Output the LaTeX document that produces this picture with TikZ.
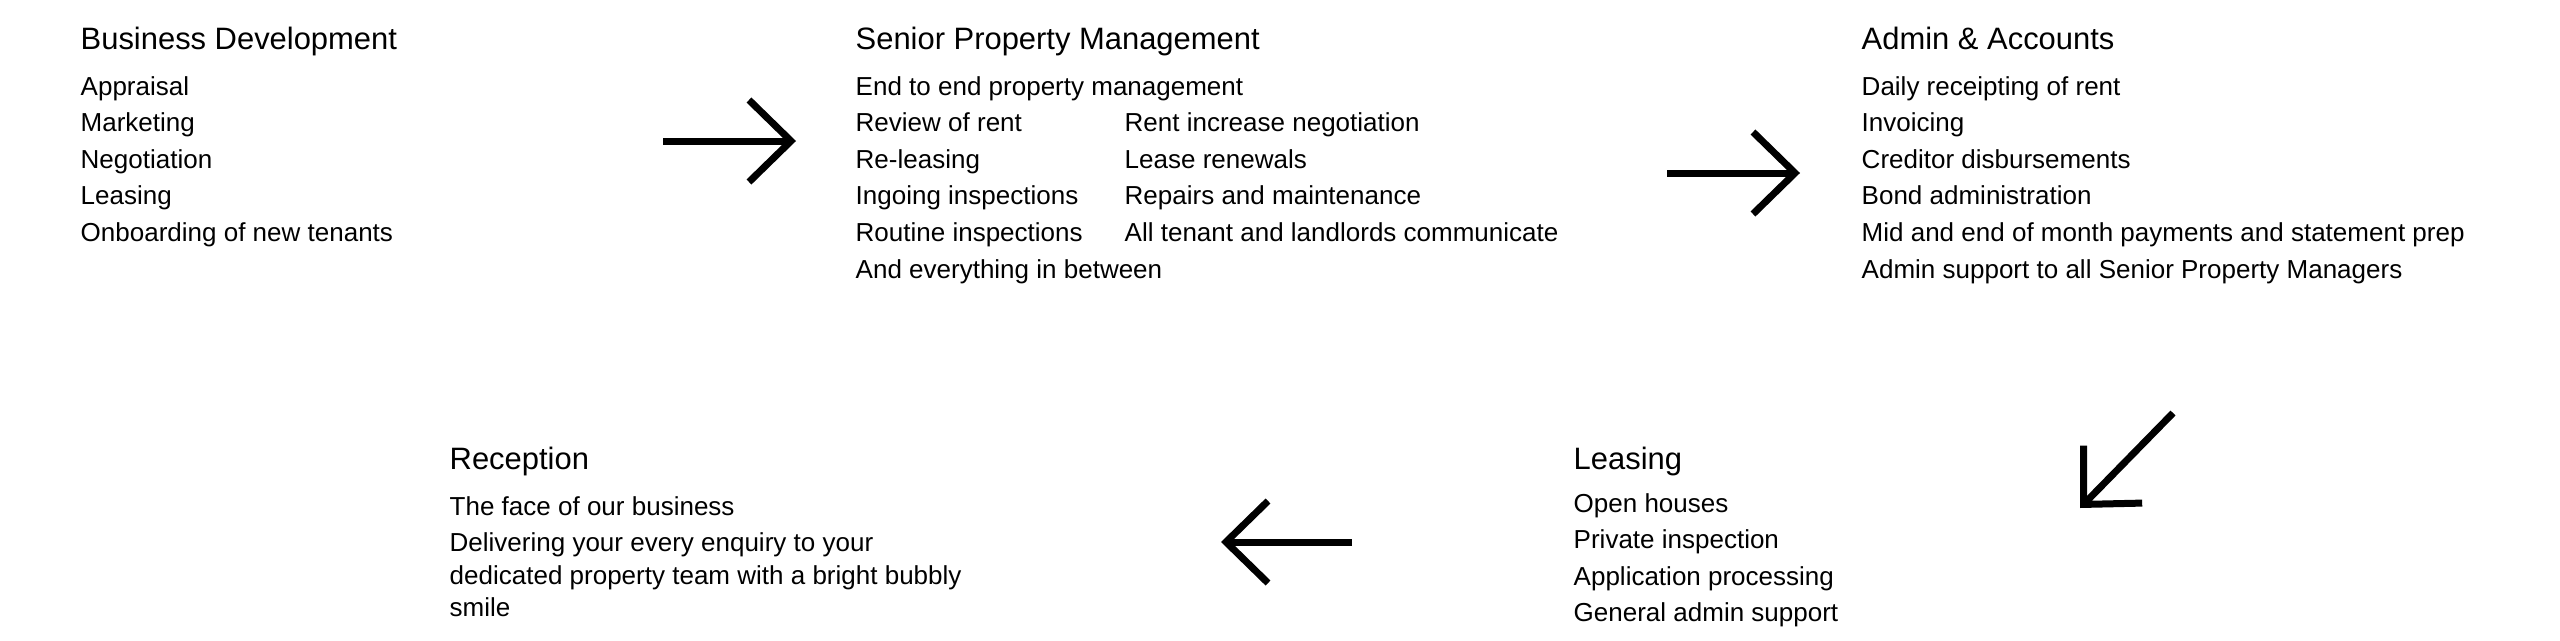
\documentclass[tikz,border=0pt]{standalone}
\usepackage{fontspec}
\setmainfont{Liberation Sans}
\usetikzlibrary{positioning,arrows.meta}

\begin{document}
\begin{tikzpicture}[headnode/.style={inner sep=0pt, anchor=base west, font=\fontsize{8.8}{10}\selectfont},
        itemnode/.style={inner sep=0pt, anchor=base west, font=\fontsize{7.4}{9}\selectfont},
        firstline/.style={below=0.46cm of #1.base west, anchor=base west},
        nextline/.style={below=0.366cm of #1.base west, anchor=base west},
        wrapline/.style={below=0.325cm of #1.base west, anchor=base west},
        flowarrow/.style={line width=0.07cm, -{Straight Barb[length=0.42cm, width=0.82cm]}}]

        \useasboundingbox (0,0) rectangle (25.6,6.4);

        % Business Development
        \node[headnode] (bd) at (0.80,5.91) {Business Development};
        \node[itemnode, firstline=bd] (bd1) {Appraisal};
        \node[itemnode, nextline=bd1] (bd2) {Marketing};
        \node[itemnode, nextline=bd2] (bd3) {Negotiation};
        \node[itemnode, nextline=bd3] (bd4) {Leasing};
        \node[itemnode, nextline=bd4] (bd5) {Onboarding of new tenants};

        % Senior Property Management
        \node[headnode] (spm) at (8.55,5.91) {Senior Property Management};
        \node[itemnode, firstline=spm] (spm1) {End to end property management};
        \node[itemnode, nextline=spm1] (spm2) {Review of rent};
        \node[itemnode, nextline=spm2] (spm3) {Re-leasing};
        \node[itemnode, nextline=spm3] (spm4) {Ingoing inspections};
        \node[itemnode, nextline=spm4] (spm5) {Routine inspections};
        \node[itemnode, nextline=spm5] (spm6) {And everything in between};
        \node[itemnode] (spm2b) [right=2.69cm of spm2.base west, anchor=base west] {Rent increase negotiation};
        \node[itemnode, nextline=spm2b] (spm3b) {Lease renewals};
        \node[itemnode, nextline=spm3b] (spm4b) {Repairs and maintenance};
        \node[itemnode, nextline=spm4b] (spm5b) {All tenant and landlords communicate};

        % Admin & Accounts
        \node[headnode] (aa) at (18.61,5.91) {Admin \& Accounts};
        \node[itemnode, firstline=aa] (aa1) {Daily receipting of rent};
        \node[itemnode, nextline=aa1] (aa2) {Invoicing};
        \node[itemnode, nextline=aa2] (aa3) {Creditor disbursements};
        \node[itemnode, nextline=aa3] (aa4) {Bond administration};
        \node[itemnode, nextline=aa4] (aa5) {Mid and end of month payments and statement prep};
        \node[itemnode, nextline=aa5] (aa6) {Admin support to all Senior Property Managers};

        % Leasing
        \node[headnode] (ls) at (15.73,1.71) {Leasing};
        \node[itemnode] (ls1) [below=0.43cm of ls.base west, anchor=base west] {Open houses};
        \node[itemnode, nextline=ls1] (ls2) {Private inspection};
        \node[itemnode, nextline=ls2] (ls3) {Application processing};
        \node[itemnode, nextline=ls3] (ls4) {General admin support};

        % Reception
        \node[headnode] (rc) at (4.49,1.71) {Reception};
        \node[itemnode, firstline=rc] (rc1) {The face of our business};
        \node[itemnode, nextline=rc1] (rc2) {Delivering your every enquiry to your};
        \node[itemnode, wrapline=rc2] (rc2b) {dedicated property team with a bright bubbly};
        \node[itemnode, wrapline=rc2b] (rc2c) {smile};

        % arrows between the blocks
        \coordinate (a1s) at (6.63,4.99);
        \coordinate (a1e) at (7.96,4.99);
        \coordinate (a2s) at (16.67,4.67);
        \coordinate (a2e) at (18.00,4.67);
        \coordinate (a3s) at (21.73,2.27);
        \coordinate (a3e) at (20.80,1.32);
        \coordinate (a4s) at (13.52,0.98);
        \coordinate (a4e) at (12.21,0.98);
        \draw[flowarrow] (a1s) -- (a1e);
        \draw[flowarrow] (a2s) -- (a2e);
        \draw[flowarrow] (a3s) -- (a3e);
        \draw[flowarrow] (a4s) -- (a4e);

\end{tikzpicture}
\end{document}
